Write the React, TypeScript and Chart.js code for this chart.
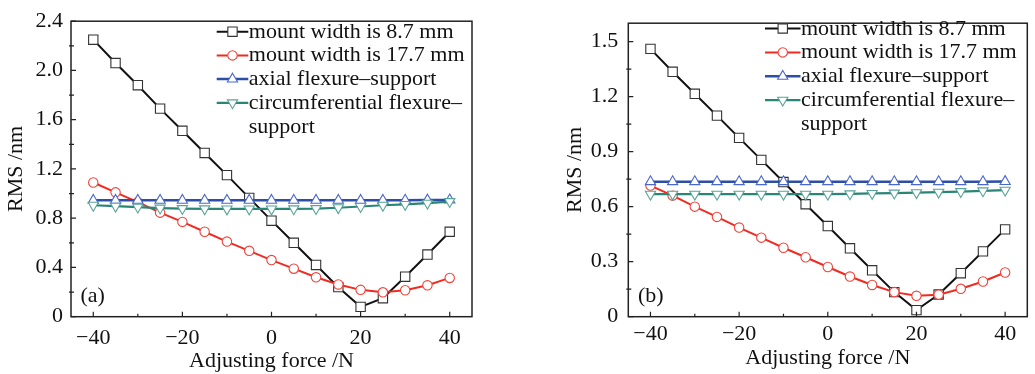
import React, { useEffect, useRef } from 'react';
import { Chart, registerables } from 'chart.js';

Chart.register(...registerables);

// ---------- data ----------
const forces = [-40, -35, -30, -25, -20, -15, -10, -5, 0, 5, 10, 15, 20, 25, 30, 35, 40];

const aMount87 = [2.25, 2.06, 1.88, 1.69, 1.51, 1.33, 1.15, 0.965, 0.78, 0.6, 0.42, 0.24, 0.08, 0.15, 0.325, 0.505, 0.69];
const aMount177 = [1.09, 1.01, 0.93, 0.845, 0.77, 0.69, 0.61, 0.535, 0.46, 0.39, 0.32, 0.262, 0.218, 0.198, 0.215, 0.255, 0.315];
const aAxial = [0.945, 0.945, 0.945, 0.945, 0.945, 0.945, 0.945, 0.945, 0.945, 0.945, 0.945, 0.945, 0.945, 0.945, 0.946, 0.947, 0.948];
const aCircum = [0.905, 0.898, 0.89, 0.882, 0.878, 0.876, 0.875, 0.875, 0.875, 0.876, 0.878, 0.885, 0.895, 0.905, 0.912, 0.922, 0.935];

const bMount87 = [1.46, 1.335, 1.215, 1.096, 0.975, 0.855, 0.734, 0.613, 0.494, 0.373, 0.253, 0.134, 0.036, 0.121, 0.237, 0.356, 0.476];
const bMount177 = [0.715, 0.66, 0.6, 0.544, 0.486, 0.431, 0.376, 0.324, 0.271, 0.219, 0.173, 0.134, 0.114, 0.12, 0.152, 0.192, 0.241];
const bAxial = [0.736, 0.736, 0.736, 0.736, 0.736, 0.736, 0.736, 0.736, 0.736, 0.736, 0.736, 0.736, 0.736, 0.736, 0.736, 0.736, 0.737];
const bCircum = [0.668, 0.668, 0.668, 0.668, 0.668, 0.668, 0.668, 0.668, 0.668, 0.67, 0.672, 0.674, 0.676, 0.679, 0.682, 0.686, 0.69];

const xTicks = [-40, -20, 0, 20, 40];
const yTicksA = [0, 0.4, 0.8, 1.2, 1.6, 2.0, 2.4];
const yTicksB = [0, 0.3, 0.6, 0.9, 1.2, 1.5];

const seriesLabels = ['mount width is 8.7 mm', 'mount width is 17.7 mm', 'axial flexure\u2013support', 'circumferential flexure\u2013support'];
const legendLines = [['mount width is 8.7 mm'], ['mount width is 17.7 mm'], ['axial flexure\u2013support'], ['circumferential flexure\u2013', 'support']];
const panelTags = ['(a)', '(b)'];
const xTitle = 'Adjusting force /N';
const yTitle = 'RMS /nm';

// ---------- styles ----------
const FONT = "'Liberation Serif', 'Times New Roman', serif";
const TEXT = '#111';
const seriesStyles = [
  { line: '#111111', point: '#333333', style: 'rect', radius: 6.6, rot: 0, width: 2 },
  { line: '#ef2b22', point: '#f0443a', style: 'circle', radius: 4.7, rot: 0, width: 2 },
  { line: '#2c4ea8', point: '#4a68cc', style: 'triangle', radius: 5.9, rot: 0, width: 2.5 },
  { line: '#2a8577', point: '#5aa49a', style: 'triangle', radius: 5.9, rot: 180, width: 2.2 },
];

const panels = [
  {
    width: 515,
    pad: { left: 0, top: 17.5, right: 43, bottom: 0 },
    yW: 71, xH: 57.3, yMax: 2.4, yTicks: yTicksA, minorY: 0.2,
    yTitlePad: 3, xTitlePad: 0, xTickPad: 8, yTickPad: 8,
    legend: { x: 216.7, len: 31.6, y0: 31.7, dy: 23.7 },
    tag: { x: 80.5, y: 302 },
    series: [aMount87, aMount177, aAxial, aCircum],
  },
  {
    width: 520,
    pad: { left: 43, top: 17.7, right: 6, bottom: 0 },
    yW: 70.3, xH: 57.3, yMax: 1.6, yTicks: yTicksB, minorY: 0.15,
    yTitlePad: 4, xTitlePad: 3, xTickPad: 4, yTickPad: 10,
    legend: { x: 250, len: 35.5, y0: 28.5, dy: 23.9 },
    tag: { x: 123, y: 302 },
    series: [bMount87, bMount177, bAxial, bCircum],
  },
];

function drawMarker(ctx: CanvasRenderingContext2D, s: any, cx: number, cy: number) {
  ctx.save();
  ctx.fillStyle = '#fff';
  ctx.strokeStyle = s.point;
  ctx.lineWidth = 1.1;
  ctx.beginPath();
  const r = s.radius;
  if (s.style === 'rect') {
    const h = r * Math.SQRT1_2;
    ctx.rect(cx - h, cy - h, 2 * h, 2 * h);
  } else if (s.style === 'circle') {
    ctx.arc(cx, cy, r, 0, Math.PI * 2);
  } else {
    const sgn = s.rot === 180 ? -1 : 1;
    ctx.moveTo(cx, cy - sgn * r);
    ctx.lineTo(cx + 0.866 * r, cy + sgn * 0.5 * r);
    ctx.lineTo(cx - 0.866 * r, cy + sgn * 0.5 * r);
    ctx.closePath();
  }
  ctx.fill();
  ctx.stroke();
  ctx.restore();
}

function makeChart(canvas: HTMLCanvasElement, p: any, tag: string) {
  const framePlugin = {
    id: 'frameTicks',
    afterDraw(chart: any) {
      const { ctx, chartArea } = chart;
      const xs = chart.scales.x;
      const ys = chart.scales.y;
      ctx.save();
      ctx.strokeStyle = '#222';
      ctx.lineWidth = 1.5;
      ctx.strokeRect(chartArea.left, chartArea.top, chartArea.right - chartArea.left, chartArea.bottom - chartArea.top);
      ctx.lineWidth = 1.2;
      ctx.beginPath();
      // x ticks (major + minor), inward
      for (let i = 0; i < xTicks.length; i++) {
        const px = xs.getPixelForValue(xTicks[i]);
        ctx.moveTo(px, chartArea.bottom);
        ctx.lineTo(px, chartArea.bottom - 5);
        if (i < xTicks.length - 1) {
          const mx = xs.getPixelForValue((xTicks[i] + xTicks[i + 1]) / 2);
          ctx.moveTo(mx, chartArea.bottom);
          ctx.lineTo(mx, chartArea.bottom - 3);
        }
      }
      // y ticks
      const yt = p.yTicks;
      for (let i = 0; i < yt.length; i++) {
        const py = ys.getPixelForValue(yt[i]);
        ctx.moveTo(chartArea.left, py);
        ctx.lineTo(chartArea.left + 5, py);
        const mv = yt[i] + p.minorY;
        if (mv < p.yMax) {
          const my = ys.getPixelForValue(mv);
          ctx.moveTo(chartArea.left - 2, my);
          ctx.lineTo(chartArea.left + 3, my);
        }
      }
      ctx.stroke();

      // legend
      ctx.font = `22px ${FONT}`;
      ctx.textBaseline = 'alphabetic';
      ctx.textAlign = 'left';
      ctx.fillStyle = TEXT;
      let row = 0;
      for (let i = 0; i < legendLines.length; i++) {
        const s = seriesStyles[i];
        const y = p.legend.y0 + row * p.legend.dy;
        ctx.strokeStyle = s.line;
        ctx.lineWidth = s.width;
        ctx.beginPath();
        ctx.moveTo(p.legend.x, y);
        ctx.lineTo(p.legend.x + p.legend.len, y);
        ctx.stroke();
        drawMarker(ctx, s, p.legend.x + p.legend.len / 2, y);
        ctx.fillStyle = TEXT;
        for (const line of legendLines[i]) {
          ctx.fillText(line, p.legend.x + p.legend.len + 0.5, p.legend.y0 + row * p.legend.dy + 6);
          row++;
        }
      }
      // panel tag
      ctx.fillText(tag, p.tag.x, p.tag.y);
      ctx.restore();
    },
  };

  const datasets = p.series.map((vals: number[], i: number) => {
    const s = seriesStyles[i];
    return {
      label: seriesLabels[i],
      data: vals.map((v, j) => ({ x: forces[j], y: v })),
      borderColor: s.line,
      borderWidth: s.width,
      pointStyle: s.style,
      pointRadius: s.radius,
      pointRotation: s.rot,
      pointBorderColor: s.point,
      pointBorderWidth: 1.1,
      pointBackgroundColor: '#fff',
      tension: 0,
      fill: false,
      order: 4 - i,
      clip: false,
    };
  });

  return new Chart(canvas, {
    type: 'line',
    data: { datasets },
    plugins: [framePlugin],
    options: {
      animation: false,
      responsive: false,
      devicePixelRatio: 1,
      events: [],
      layout: { padding: p.pad },
      plugins: { legend: { display: false }, tooltip: { enabled: false } },
      scales: {
        x: {
          type: 'linear',
          min: -45,
          max: 45,
          grid: { display: false, drawTicks: false },
          border: { display: false },
          afterBuildTicks: (sc: any) => { sc.ticks = xTicks.map((v) => ({ value: v })); },
          afterFit: (sc: any) => { sc.height = p.xH; },
          ticks: {
            padding: p.xTickPad,
            color: TEXT,
            font: { family: FONT, size: 22 },
            maxRotation: 0,
            autoSkip: false,
            callback: (v: any) => (v < 0 ? '\u2212' + Math.abs(v) : String(v)),
          },
          title: {
            display: true,
            text: xTitle,
            color: TEXT,
            font: { family: FONT, size: 22 },
            padding: { top: 0, bottom: p.xTitlePad },
          },
        },
        y: {
          type: 'linear',
          min: 0,
          max: p.yMax,
          grid: { display: false, drawTicks: false },
          border: { display: false },
          afterBuildTicks: (sc: any) => { sc.ticks = p.yTicks.map((v: number) => ({ value: v })); },
          afterFit: (sc: any) => { sc.width = p.yW; },
          ticks: {
            padding: p.yTickPad,
            color: TEXT,
            font: { family: FONT, size: 22 },
            autoSkip: false,
            callback: (v: any) => (v === 0 ? '0' : Number(v).toFixed(1)),
          },
          title: {
            display: true,
            text: yTitle,
            color: TEXT,
            font: { family: FONT, size: 22 },
            padding: { top: p.yTitlePad, bottom: 0 },
          },
        },
      },
    } as any,
  });
}

export default function App() {
  const refA = useRef<HTMLCanvasElement>(null);
  const refB = useRef<HTMLCanvasElement>(null);
  useEffect(() => {
    const charts = [makeChart(refA.current!, panels[0], panelTags[0]), makeChart(refB.current!, panels[1], panelTags[1])];
    return () => charts.forEach((c) => c.destroy());
  }, []);
  return (
    <div style={{ position: 'absolute', left: 0, top: 0, width: 1035, height: 374, background: '#fff' }}>
      <canvas ref={refA} width={515} height={374} style={{ position: 'absolute', left: 0, top: 0, width: 515, height: 374 }} />
      <canvas ref={refB} width={520} height={374} style={{ position: 'absolute', left: 515, top: 0, width: 520, height: 374 }} />
    </div>
  );
}
